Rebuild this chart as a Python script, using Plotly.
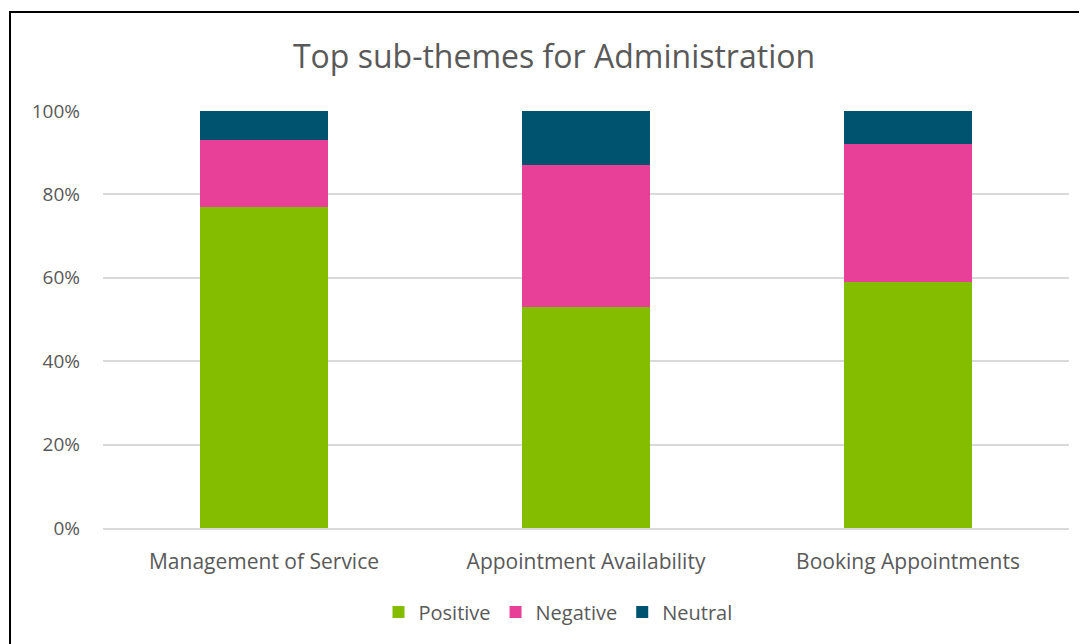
import plotly.graph_objects as go

categories = ["Management of Service", "Appointment Availability", "Booking Appointments"]
positive = [0.77, 0.53, 0.59]
negative = [0.16, 0.34, 0.33]
neutral = [0.07, 0.13, 0.08]
y_ticks = [0, 0.2, 0.4, 0.6, 0.8, 1.0]
y_tick_labels = ["0%", "20%", "40%", "60%", "80%", "100%"]

FONT = "Open Sans"
GRAY = "#595959"
OFF = 8  # default page body margin

fig = go.Figure()
for name, vals, col in [("Positive", positive, "#84BD00"),
                        ("Negative", negative, "#E84098"),
                        ("Neutral", neutral, "#00536F")]:
    fig.add_trace(go.Bar(x=categories, y=vals, name=name, marker=dict(color=col, line=dict(width=0))))

fig.update_layout(
    barmode="stack",
    bargap=0.6,
    width=1087, height=644,
    margin=dict(l=103 - OFF, r=18 + OFF, t=111 - OFF, b=116 + OFF),
    paper_bgcolor="white", plot_bgcolor="white",
    font=dict(family=FONT, color=GRAY, size=21),
    title=dict(text="Top sub-themes for Administration", x=(554 - OFF) / 1087, y=1 - (57 - OFF) / 644,
               xanchor="center", yanchor="middle", xref="container", yref="container",
               font=dict(size=32, color=GRAY, family=FONT)),
    legend=dict(orientation="h", x=(558 - 103) / 966, xanchor="center", y=1 - (612 - OFF) / 644,
                yref="container", yanchor="middle", font=dict(size=20, color=GRAY),
                traceorder="normal", itemwidth=30),
    showlegend=True,
)
fig.update_yaxes(range=[0, 1], tickvals=y_ticks, ticktext=y_tick_labels,
                 showgrid=True, gridcolor="#D9D9D9", gridwidth=1.5, zeroline=False,
                 showline=False, ticks="", ticklabelstandoff=22, tickfont=dict(size=19))
fig.update_xaxes(showline=True, linecolor="#D9D9D9", linewidth=1.5, ticks="",
                 ticklabelstandoff=14, tickfont=dict(size=21))
fig.add_shape(type="rect", xref="paper", yref="paper",
              x0=(10 - 103) / 966, x1=1.2, y0=-0.6, y1=1 + (111 - 12) / 417,
              line=dict(color="black", width=2), fillcolor="rgba(0,0,0,0)", layer="below")
fig.write_html("out.html")
